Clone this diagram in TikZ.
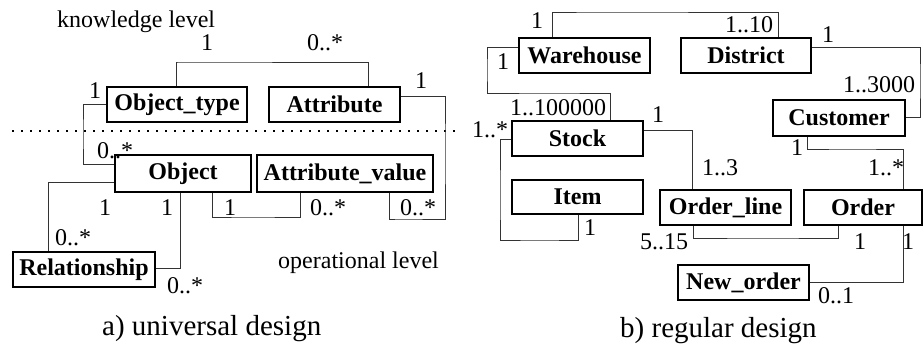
\documentclass[tikz,border=0pt]{standalone}
\usepackage{fontspec}
\setmainfont{Liberation Serif}
\begin{document}
\begin{tikzpicture}[x=1pt,y=-1pt,
  box/.style={draw=black,line width=1.8pt,inner sep=0pt,minimum height=35pt,font=\fontsize{24}{28}\selectfont\bfseries},
  lab/.style={inner sep=0pt,font=\fontsize{24}{28}\selectfont},
  captxt/.style={inner sep=0pt,font=\fontsize{29}{34}\selectfont},
  conn/.style={draw=black!80,line width=1pt}]
\useasboundingbox (0,0) rectangle (924,346);
% dotted separator
\coordinate (dl) at (12,131);
\coordinate (dr) at (460,131);
\draw[line width=1.6pt,dash pattern=on 1.6pt off 7.4pt] (dl) -- (dr);
% ---- a) universal design ----
\node[box,minimum width=140pt] (ot) at (177,104.5) {Object\_type};
\node[box,minimum width=131pt] (at) at (334.5,104.5) {Attribute};
\node[box,minimum width=136pt,minimum height=37pt] (ob) at (183,173.5) {Object};
\node[box,minimum width=176pt,minimum height=37pt] (av) at (345,173.5) {Attribute\_value};
\node[box,minimum width=142pt] (re) at (84,269.5) {Relationship};
\draw[conn] (ot.north -| 176,0) |- (178,62) -| (at.north -| 368,0);
\draw[conn] (ot.west |- 0,104) -| (83,134) |- (ob.west |- 0,164);
\draw[conn] (at.east |- 0,96) -| (445,150) |- (400,219) -| (av.south -| 389,0);
\draw[conn] (ob.west |- 0,182) -| (re.north -| 48,0);
\draw[conn] (ob.south -| 180,0) |- (re.east |- 0,268);
\draw[conn] (ob.south -| 212,0) |- (250,217) -| (av.south -| 300,0);
\node[lab,anchor=base west] (kl) at (57,27) {knowledge level};
\node[lab,anchor=base] (m1) at (207,50) {1};
\node[lab,anchor=base west] (m2) at (307,50) {0..*};
\node[lab,anchor=base] (m3) at (95,98) {1};
\node[lab,anchor=base] (m4) at (421,88) {1};
\node[lab,anchor=base west] (m5) at (97,158) {0..*};
\node[lab,anchor=base] (m6) at (105,215) {1};
\node[lab,anchor=base] (m7) at (167,215) {1};
\node[lab,anchor=base] (m8) at (230,215) {1};
\node[lab,anchor=base west] (m9) at (310,215) {0..*};
\node[lab,anchor=base west] (m10) at (400,215) {0..*};
\node[lab,anchor=base west] (m11) at (55,245) {0..*};
\node[lab,anchor=base west] (m12) at (167,293) {0..*};
\node[lab,anchor=base west] (opl) at (278,268) {operational level};
\node[captxt,anchor=base west] (capa) at (102,335) {a) universal design};
% ---- b) regular design ----
\node[box,minimum width=131pt] (wh) at (584.5,55.5) {Warehouse};
\node[box,minimum width=130pt] (di) at (746,55.5) {District};
\node[box,minimum width=132pt,minimum height=36pt] (cu) at (839,118) {Customer};
\node[box,minimum width=131pt] (st) at (577.5,138.5) {Stock};
\node[box,minimum width=131pt,minimum height=34pt] (it) at (577.5,197) {Item};
\node[box,minimum width=131pt] (ol) at (725.5,207.5) {Order\_line};
\node[box,minimum width=118pt] (or) at (863,207.5) {Order};
\node[box,minimum width=131pt] (no) at (743.5,282.5) {New\_order};
\draw[conn] (wh.north -| 552,0) |- (600,12) -| (di.north -| 778,0);
\draw[conn] (wh.west |- 0,47) -| (487,70) |- (550,93) -| (st.north -| 610,0);
\draw[conn] (di.east |- 0,47) -| (920,80) |- (cu.east |- 0,117);
\draw[conn] (st.east |- 0,130) -| (ol.north -| 692,0);
\draw[conn] (st.west |- 0,139) -| (500,200) |- (540,240) -| (it.south -| 578,0);
\draw[conn] (cu.south -| 807,0) |- (850,149) -| (or.north -| 903,0);
\draw[conn] (ol.south -| 693,0) |- (760,238) -| (or.south -| 838,0);
\draw[conn] (or.south -| 903,0) |- (no.east |- 0,282);
\node[lab,anchor=base] (n1) at (537,28) {1};
\node[lab,anchor=base west] (n2) at (725,32) {1..10};
\node[lab,anchor=base] (n3) at (828,42) {1};
\node[lab,anchor=base] (n4) at (503,69) {1};
\node[lab,anchor=base west] (n5) at (843,92) {1..3000};
\node[lab,anchor=base west] (n6) at (510,115) {1..100000};
\node[lab,anchor=base] (n7) at (658,122) {1};
\node[lab,anchor=base west] (n8) at (472,137) {1..*};
\node[lab,anchor=base] (n9) at (797,155) {1};
\node[lab,anchor=base west] (n10) at (868,175) {1..*};
\node[lab,anchor=base west] (n11) at (702,175) {1..3};
\node[lab,anchor=base] (n12) at (590,235) {1};
\node[lab,anchor=base west] (n13) at (640,249) {5..15};
\node[lab,anchor=base] (n14) at (860,249) {1};
\node[lab,anchor=base] (n15) at (908,249) {1};
\node[lab,anchor=base west] (n16) at (818,303) {0..1};
\node[captxt,anchor=base west] (capb) at (620,337) {b) regular design};
\end{tikzpicture}
\end{document}
